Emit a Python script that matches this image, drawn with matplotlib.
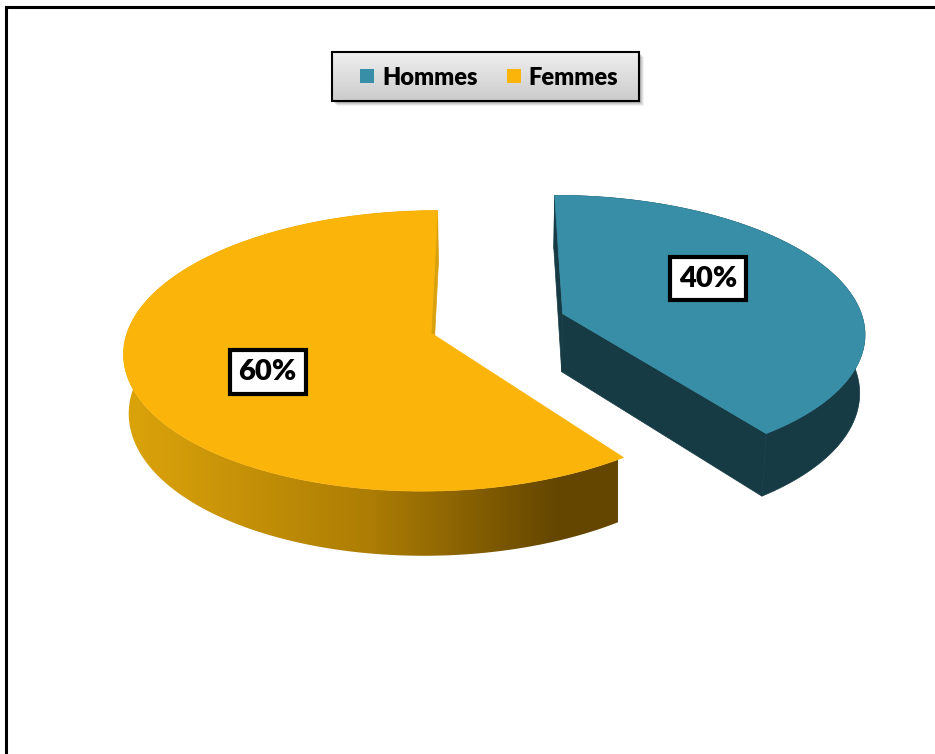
import numpy as np
import matplotlib
matplotlib.use('Agg')
import matplotlib.pyplot as plt
from matplotlib.patches import Polygon, Rectangle
from matplotlib.colors import LinearSegmentedColormap

labels = ['Hommes', 'Femmes']
shares = [40, 60]
top_colors = ['#378EA6', '#FBB40A']
side_colors = ['#173B45', '#D9A20C']
explode = [0.46, 0.0]

W, H = 935, 754

# 3d view of the pie (world units = pie radius)
tilt = np.radians(27)
dist = 7.0
scale = 304
cam_x, cam_y = 490, 333
origin_u = -0.194
depth = 0.22
cam_pos = np.array([-origin_u, -dist * np.cos(tilt)])

plt.rcParams['font.family'] = ['Lato', 'DejaVu Sans']

fig = plt.figure(figsize=(W / 100, H / 100), dpi=100)
ax = fig.add_axes([0, 0, 1, 1])
ax.set_xlim(0, W)
ax.set_ylim(H, 0)
ax.axis('off')


def project(u, v, h=0.0):
    u = np.asarray(u) + origin_u
    v = np.asarray(v)
    y = v * np.sin(tilt) + h * np.cos(tilt)
    z = v * np.cos(tilt) - h * np.sin(tilt)
    s = dist / (dist + z)
    return cam_x + scale * u * s, cam_y - scale * y * s


side_cmap = LinearSegmentedColormap.from_list(
    'side', [(0, '#DCA40B'), (0.5, '#AD7D04'), (0.88, '#644600'), (1, '#644600')])

start = 90.0
for i, share in enumerate(shares):
    a1 = start
    a2 = start - 360 * share / 100
    start = a2
    mid = np.radians((a1 + a2) / 2)
    cu = explode[i] * np.cos(mid)
    cv = explode[i] * np.sin(mid)

    th = np.radians(np.linspace(a2, a1, 200))
    tx, ty = project(cu + np.cos(th), cv + np.sin(th))
    bx, by = project(cu + np.cos(th), cv + np.sin(th), -depth)
    ax0, ay0 = project(cu, cv)
    axb, ayb = project(cu, cv, -depth)

    # outer wall
    band = np.column_stack([np.r_[tx, bx[::-1]], np.r_[ty, by[::-1]]])
    if i == 1:
        poly = Polygon(band, closed=True, fc='none', ec='none')
        ax.add_patch(poly)
        grad = np.linspace(0, 1, 256)[None, :]
        x_lo, x_hi = band[:, 0].min(), band[:, 0].max()
        im = ax.imshow(grad, cmap=side_cmap, aspect='auto',
                       extent=[x_lo, x_lo + (x_hi - x_lo) * 0.95 + 20, band[:, 1].max(), band[:, 1].min()],
                       interpolation='bilinear', zorder=1)
        im.set_clip_path(poly)
        ax.set_xlim(0, W)
        ax.set_ylim(H, 0)
    else:
        ax.add_patch(Polygon(band, closed=True, fc=side_colors[i], ec=side_colors[i], lw=0.5, zorder=1))

    # cut faces, only those turned toward the camera
    for a, turn in ((a1, 90), (a2, -90)):
        n = np.array([np.cos(np.radians(a + turn)), np.sin(np.radians(a + turn))])
        if np.dot(n, cam_pos - np.array([cu, cv])) <= 0:
            continue
        rx, ry = project(cu + np.cos(np.radians(a)), cv + np.sin(np.radians(a)))
        rbx, rby = project(cu + np.cos(np.radians(a)), cv + np.sin(np.radians(a)), -depth)
        quad = [(ax0, ay0), (rx, ry), (rbx, rby), (axb, ayb)]
        ax.add_patch(Polygon(quad, closed=True, fc=side_colors[i], ec=side_colors[i], lw=0.5, zorder=2))

    # top face
    top = np.column_stack([np.r_[ax0, tx], np.r_[ay0, ty]])
    ax.add_patch(Polygon(top, closed=True, fc=top_colors[i], ec=top_colors[i], lw=0.5, zorder=3))

    # percentage label
    la = mid + np.radians(10)
    lx, ly = project(cu + 0.58 * np.cos(la), cv + 0.58 * np.sin(la))
    ax.text(lx, ly, f'{share}%', ha='center', va='center', fontsize=21, fontweight='heavy',
            color='black', zorder=6,
            bbox=dict(boxstyle='square,pad=0.3', fc='white', ec='black', lw=3))

# legend box with soft shadow and grey gradient
lx0, ly0, lw_, lh_ = 332, 52, 307, 49
for k, al in enumerate([0.05, 0.07, 0.09, 0.12]):
    off = 5 - k
    ax.add_patch(Rectangle((lx0 + off, ly0 + off), lw_, lh_, fc='black', ec='none', alpha=al, zorder=7))
leg_grad = np.linspace(0, 1, 64)[:, None]
leg_cmap = LinearSegmentedColormap.from_list('leg', ['#EFEFEF', '#CBCBCB'])
leg_rect = Rectangle((lx0, ly0), lw_, lh_, fc='none', ec='none')
ax.add_patch(leg_rect)
lim = ax.imshow(leg_grad, cmap=leg_cmap, aspect='auto', extent=[lx0, lx0 + lw_, ly0 + lh_, ly0],
                interpolation='bilinear', zorder=8)
lim.set_clip_path(leg_rect)
ax.add_patch(Rectangle((lx0, ly0), lw_, lh_, fc='none', ec='black', lw=1.5, zorder=9))
ax.set_xlim(0, W)
ax.set_ylim(H, 0)

fig.canvas.draw()
renderer = fig.canvas.get_renderer()
cursor = 360
for name, col in zip(labels, top_colors):
    ax.add_patch(Rectangle((cursor, 69), 14, 14, fc=col, ec='none', zorder=10))
    t = ax.text(cursor + 22, 85, name, ha='left', va='baseline', fontsize=17,
                fontweight='heavy', color='black', zorder=10)
    bb = t.get_window_extent(renderer)
    cursor += 22 + bb.width + 29

# chart frame
ax.plot([5.5, 5.5], [H, 6.5], color='black', lw=2.2, solid_capstyle='projecting', zorder=11)
ax.plot([5.5, W], [6.5, 6.5], color='black', lw=2.2, solid_capstyle='projecting', zorder=11)

fig.savefig('out.png', dpi=100)
